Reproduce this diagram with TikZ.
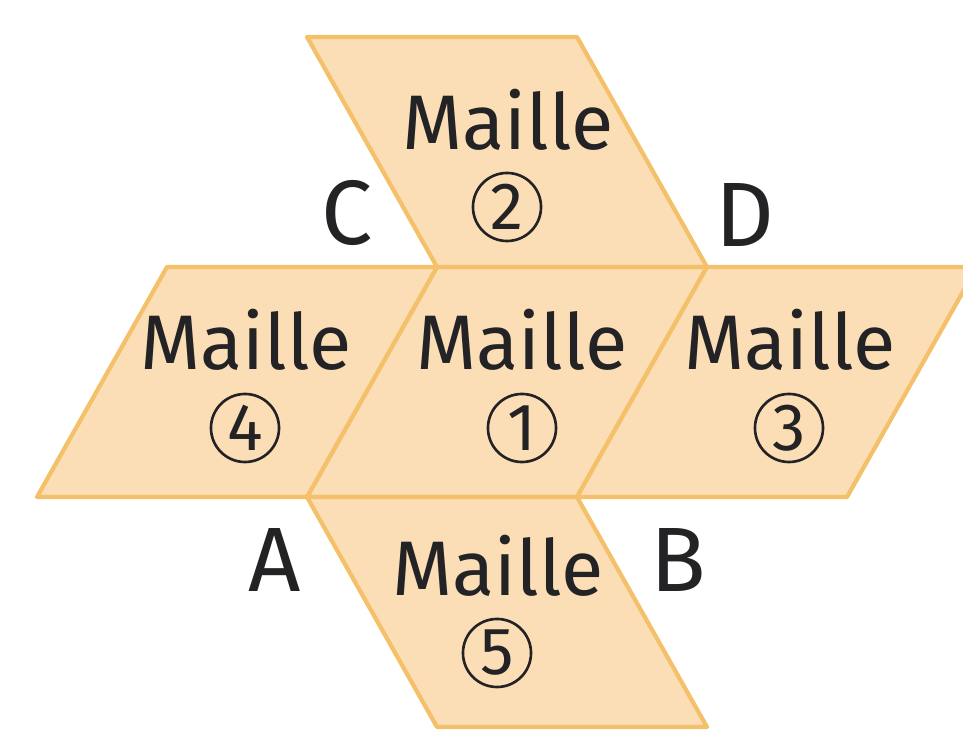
\documentclass[tikz,border=0pt]{standalone}
\usepackage{fontspec}
\setmainfont{Fira Sans}
\definecolor{cellfill}{RGB}{251,222,182}
\definecolor{celledge}{RGB}{244,192,105}
\definecolor{inkdark}{RGB}{35,35,38}
\begin{document}
\begin{tikzpicture}[
    x=0.01cm, y=-0.01cm,
    cell/.style={fill=cellfill, draw=celledge, line width=1.2pt,
                 line join=round},
    word/.style={font=\fontsize{22}{24}\selectfont, text=inkdark,
                 anchor=base},
    badge/.style={circle, draw=inkdark, line width=0.75pt, inner sep=0pt,
                  minimum size=0.68cm, text=inkdark,
                  font=\fontsize{19}{20}\selectfont},
    corner/.style={font=\fontsize{26}{28}\selectfont, text=inkdark},
]
\useasboundingbox (0,0) rectangle (963,731);

% Cells -- slanted lattice
\draw[cell] (307,497) -- (577,497) -- (707,267) -- (437,267) -- cycle; % 1
\draw[cell] (437,267) -- (707,267) -- (577,37)  -- (307,37)  -- cycle; % 2
\draw[cell] (577,497) -- (847,497) -- (977,267) -- (707,267) -- cycle; % 3
\draw[cell] (37,497)  -- (307,497) -- (437,267) -- (167,267) -- cycle; % 4
\draw[cell] (307,497) -- (577,497) -- (707,727) -- (437,727) -- cycle; % 5

% Cell labels
\node[word]  (m1) at (522,370) {Maille};
\node[badge] (n1) at (522,428) {1};
\node[word]  (m2) at (508,150) {Maille};
\node[badge] (n2) at (507,207) {2};
\node[word]  (m3) at (790,370) {Maille};
\node[badge] (n3) at (789,428) {3};
\node[word]  (m4) at (246,370) {Maille};
\node[badge] (n4) at (245,428) {4};
\node[word]  (m5) at (498,596) {Maille};
\node[badge] (n5) at (497,653) {5};

% Corner letters
\node[corner] (ca) at (275,560) {A};
\node[corner] (cb) at (678,560) {B};
\node[corner] (cc) at (347,213) {C};
\node[corner] (cd) at (745,215) {D};

\end{tikzpicture}
\end{document}
